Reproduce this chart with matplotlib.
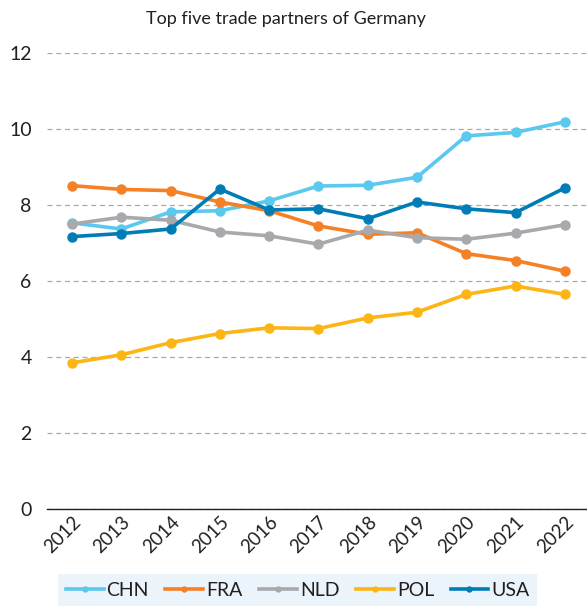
import matplotlib.pyplot as plt

plt.rcParams['font.family'] = ['Lato', 'DejaVu Sans']

years = list(range(2012, 2023))
chn = [7.53, 7.37, 7.82, 7.85, 8.11, 8.50, 8.52, 8.73, 9.82, 9.91, 10.19]
fra = [8.51, 8.41, 8.38, 8.08, 7.85, 7.45, 7.23, 7.27, 6.72, 6.54, 6.26]
nld = [7.50, 7.68, 7.60, 7.29, 7.19, 6.97, 7.34, 7.14, 7.10, 7.26, 7.48]
pol = [3.85, 4.06, 4.38, 4.62, 4.77, 4.75, 5.03, 5.18, 5.65, 5.87, 5.65]
usa = [7.17, 7.25, 7.37, 8.42, 7.87, 7.90, 7.64, 8.08, 7.90, 7.80, 8.45]

series = [('CHN', chn, '#5BC8EE'),
          ('FRA', fra, '#F58025'),
          ('NLD', nld, '#A7A9AC'),
          ('POL', pol, '#FDB515'),
          ('USA', usa, '#007DB7')]

fig = plt.figure(figsize=(5.87, 6.09), dpi=100)
ax = fig.add_axes([0.080, 0.164, 0.920, 0.749])

for name, vals, col in series:
    ax.plot(years, vals, color=col, lw=2.6, marker='o', ms=6.5, label=name)

ax.set_xlim(2011.49, 2022.45)
ax.set_ylim(0, 12)
ax.set_yticks([0, 2, 4, 6, 8, 10, 12])
ax.set_xticks(years)
ax.tick_params(axis='y', length=0, labelsize=14, colors='#231F20', pad=11)
ax.tick_params(axis='x', length=0, labelsize=13.5, colors='#231F20', pad=3)
for lbl in ax.get_xticklabels():
    lbl.set_rotation(45)
    lbl.set_ha('right')
    lbl.set_rotation_mode('anchor')
ax.grid(axis='y', color='#A7A9AC', ls=(0, (4, 3)), lw=0.9)
ax.set_axisbelow(True)
for s in ['top', 'right', 'left']:
    ax.spines[s].set_visible(False)
ax.spines['bottom'].set_color('#231F20')
ax.spines['bottom'].set_linewidth(1)

fig.text(0.487, 0.969, 'Top five trade partners of Germany', fontsize=13,
         color='#231F20', ha='center', va='center')

handles, labels = ax.get_legend_handles_labels()
leg = fig.legend(handles, labels, loc='center', bbox_to_anchor=(0.507, 0.031), ncol=5,
                 frameon=True, fancybox=False, fontsize=14, markerscale=0.55,
                 handlelength=1.95, handletextpad=0.15, columnspacing=0.85,
                 borderpad=0.4, borderaxespad=0)
leg.get_frame().set_facecolor('#E6F2FA')
leg.get_frame().set_edgecolor('none')
for t in leg.get_texts():
    t.set_color('#231F20')

fig.savefig('out.png', dpi=100)
